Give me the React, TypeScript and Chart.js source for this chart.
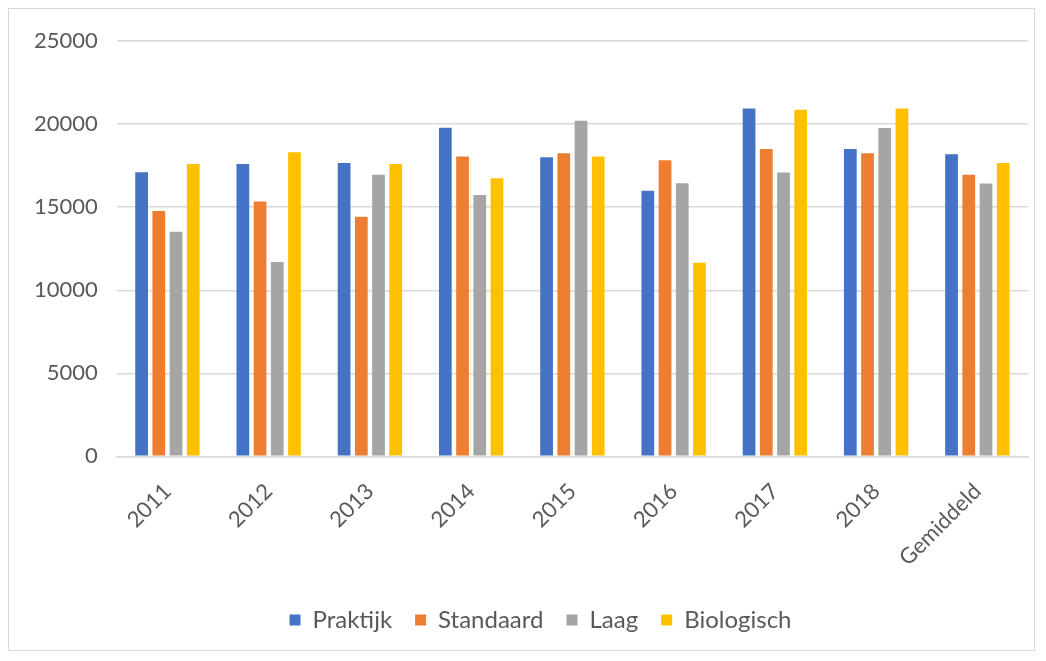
import React, { useEffect, useRef } from "react";
import { Chart, registerables } from "chart.js";

Chart.register(...registerables);

const categories = ["2011", "2012", "2013", "2014", "2015", "2016", "2017", "2018", "Gemiddeld"];
const praktijk = [17100, 17600, 17670, 19790, 18010, 16000, 20950, 18510, 18190];
const standaard = [14780, 15340, 14420, 18050, 18250, 17830, 18510, 18250, 16950];
const laag = [13520, 11700, 16950, 15740, 20210, 16450, 17090, 19770, 16430];
const biologisch = [17600, 18310, 17600, 16750, 18050, 11660, 20870, 20950, 17670];
const yTicks = [0, 5000, 10000, 15000, 20000, 25000];

const FONT = "Lato, 'Open Sans', sans-serif";
const TEXT = "#595959";

const shiftLegend = {
  id: "shiftLegend",
  afterLayout(chart: any) {
    const l = chart.legend;
    if (l) l.left += 38;
  },
};

export default function App() {
  const ref = useRef<HTMLCanvasElement | null>(null);
  useEffect(() => {
    if (!ref.current) return;
    const chart = new Chart(ref.current, {
      type: "bar",
      data: {
        labels: categories,
        datasets: [
          { label: "Praktijk", data: praktijk, backgroundColor: "#4472C4" },
          { label: "Standaard", data: standaard, backgroundColor: "#ED7D31" },
          { label: "Laag", data: laag, backgroundColor: "#A5A5A5" },
          { label: "Biologisch", data: biologisch, backgroundColor: "#FFC000" },
        ],
      },
      plugins: [shiftLegend],
      options: {
        animation: false,
        responsive: true,
        maintainAspectRatio: false,
        layout: { padding: { top: 10, right: 6, bottom: 8, left: 6 } },
        datasets: { bar: { categoryPercentage: 0.68, barPercentage: 0.74 } },
        plugins: {
          tooltip: { enabled: false },
          legend: {
            position: "bottom",
            labels: {
              boxWidth: 11,
              boxHeight: 11,
              padding: 23,
              color: TEXT,
              font: { family: FONT, size: 24 },
            },
          },
        },
        scales: {
          x: {
            grid: { display: false },
            border: { display: true, color: "#d9d9d9", width: 1.5 },
            ticks: {
              color: TEXT,
              font: { family: FONT, size: 22 },
              minRotation: 45,
              maxRotation: 45,
              padding: 14,
            },
          },
          y: {
            min: 0,
            max: 25000,
            afterBuildTicks: (axis: any) => {
              axis.ticks = yTicks.map((v) => ({ value: v }));
            },
            grid: { color: "#d9d9d9", lineWidth: 1.5, drawTicks: false },
            border: { display: false },
            ticks: {
              color: TEXT,
              font: { family: FONT, size: 22 },
              padding: 19,
              callback: (v: any) => String(v),
            },
          },
        },
      },
    });
    return () => chart.destroy();
  }, []);
  return (
    <div
      style={{
        position: "relative",
        width: 1027,
        height: 643,
        border: "1px solid #d9d9d9",
        boxSizing: "border-box",
        background: "#fff",
      }}
    >
      <canvas ref={ref} />
    </div>
  );
}
